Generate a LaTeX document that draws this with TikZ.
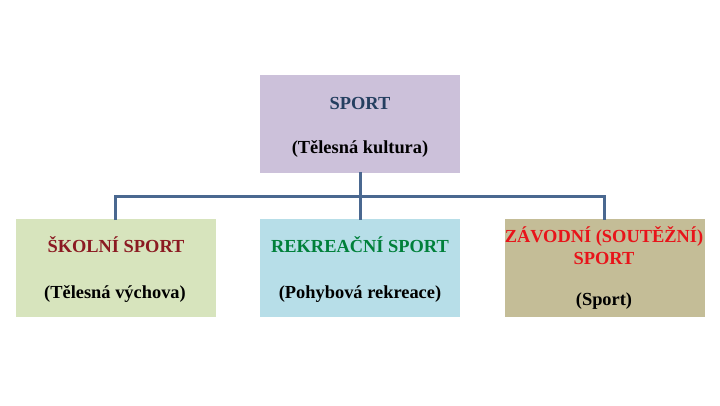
\documentclass[tikz,border=0pt]{standalone}
\usepackage{fontspec}
\setmainfont{Liberation Serif}
\definecolor{topfill}{HTML}{CCC1DA}
\definecolor{greenfill}{HTML}{D7E4BD}
\definecolor{bluefill}{HTML}{B7DEE8}
\definecolor{tanfill}{HTML}{C4BD97}
\definecolor{linec}{HTML}{4A6890}
\definecolor{navy}{HTML}{243F60}
\definecolor{darkred}{HTML}{8B1A22}
\definecolor{rgreen}{HTML}{00803A}
\definecolor{rred}{HTML}{E8141A}
\begin{document}
\begin{tikzpicture}[x=1pt,y=-1pt,
  box/.style={minimum width=200pt,minimum height=98pt,inner sep=0pt,draw=none},
  lbl/.style={font=\fontsize{18.4}{21}\selectfont\bfseries,inner sep=0pt,anchor=center},
  conn/.style={draw=linec,line width=3pt}]
\useasboundingbox (0,0) rectangle (720,405);
\node[box,fill=topfill,anchor=north west] (top) at (260,75) {};
\node[box,fill=greenfill,anchor=north west] (left) at (16,219) {};
\node[box,fill=bluefill,anchor=north west] (mid) at (260,219) {};
\node[box,fill=tanfill,anchor=north west] (right) at (505,219) {};
\node[lbl,text=navy] (t1) at (360,103) {SPORT};
\node[lbl] (t2) at (360,149) {(Tělesná kultura)};
\node[lbl,text=darkred] (l1) at (116,245) {ŠKOLNÍ SPORT};
\node[lbl] (l2) at (115,294) {(Tělesná výchova)};
\node[lbl,text=rgreen] (m1) at (360,245) {REKREAČNÍ SPORT};
\node[lbl] (m2) at (360,294) {(Pohybová rekreace)};
\node[lbl,text=rred] (r1) at (604,236) {ZÁVODNÍ (SOUTĚŽNÍ)};
\node[lbl,text=rred] (r1b) at (604,258) {SPORT};
\node[lbl] (r2) at (604,301) {(Sport)};
\coordinate (hub) at (360,196);
\draw[conn] ([yshift=1pt]top.south) -- ([yshift=-1pt]mid.north);
\draw[conn] ([xshift=-1pt,yshift=-1pt]left.north) |- (hub) -| ([xshift=-1pt,yshift=-1pt]right.north);
\end{tikzpicture}
\end{document}
